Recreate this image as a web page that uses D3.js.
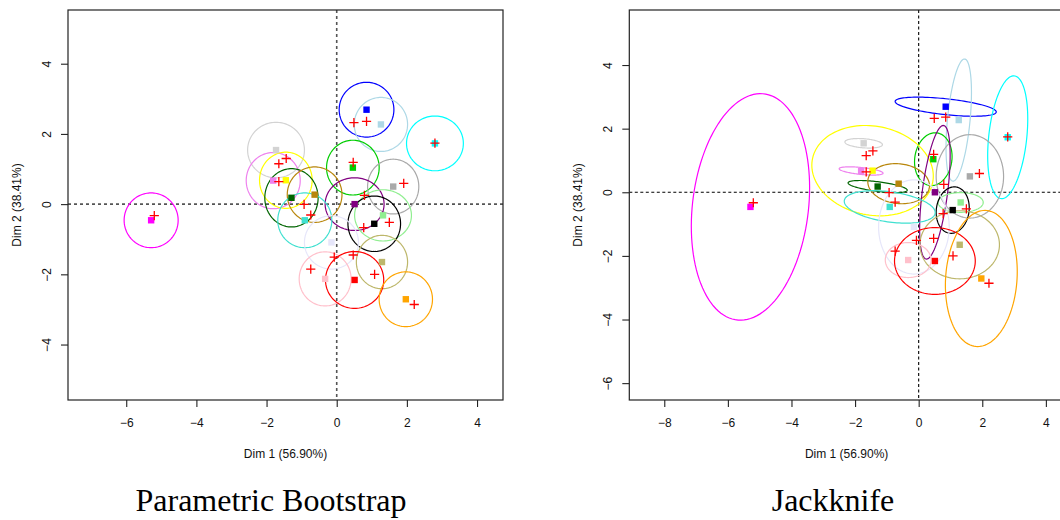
<!DOCTYPE html>
<html>
<head>
<meta charset="utf-8">
<title>Bootstrap vs Jackknife ellipses</title>
<script src="https://d3js.org/d3.v7.min.js"></script>
<style>
  body { margin: 0; background: #fff; }
  svg text { font-family: "Liberation Sans", Arial, sans-serif; }
</style>
</head>
<body>
<script>
// one colour per product
var productColors = ["#0000ff", "#add8e6", "#00ffff", "#d3d3d3", "#00cd00",
                     "#a9a9a9", "#ee82ee", "#ffff00", "#006400", "#b8860b",
                     "#800080", "#90ee90", "#000000", "#40e0d0", "#e6e6fa",
                     "#bdb76b", "#ffc0cb", "#ff0000", "#ffa500", "#ff00ff"];

// product coordinates (squares)
var dim1 = [0.85, 1.26, 2.80, -1.73, 0.46, 1.61, -1.81, -1.45, -1.29, -0.63,
            0.51, 1.32, 1.07, -0.91, -0.15, 1.29, -0.33, 0.51, 1.97, -5.29];
var dim2 = [2.69, 2.27, 1.73, 1.54, 1.04, 0.50, 0.67, 0.68, 0.18, 0.27,
            0.00, -0.32, -0.56, -0.46, -1.09, -1.65, -2.13, -2.16, -2.71, -0.46];

// red crosses
var crossDim1 = [0.49, 0.85, 2.80, -1.65, -1.44, 0.47, 1.91, -1.65, 0.79, -0.93,
                 -0.74, 1.50, 0.77, 0.47, -0.07, -0.74, 1.08, 2.21, -5.20];
var crossDim2 = [2.32, 2.36, 1.74, 1.15, 1.30, 1.19, 0.59, 0.64, 0.25, -0.01,
                 -0.31, -0.52, -0.67, -1.45, -1.51, -1.85, -2.00, -2.86, -0.33];

// parametric bootstrap: half extent along each axis
var bootRx = [0.78, 0.76, 0.81, 0.81, 0.75, 0.73, 0.77, 0.75, 0.76, 0.78,
              0.84, 0.81, 0.75, 0.77, 0.77, 0.73, 0.74, 0.83, 0.76, 0.77];
var bootRy = [0.78, 0.77, 0.78, 0.79, 0.78, 0.78, 0.80, 0.80, 0.83, 0.79,
              0.75, 0.73, 0.79, 0.78, 0.76, 0.76, 0.77, 0.81, 0.78, 0.78];

// jackknife: half extents and correlation
var jackRx = [1.59, 0.40, 0.63, 0.59, 0.59, 1.06, 0.69, 1.91, 0.93, 0.97,
              0.48, 0.71, 0.52, 1.43, 1.11, 1.25, 0.72, 1.27, 1.13, 1.86];
var jackRy = [0.30, 1.92, 1.93, 0.15, 0.83, 1.31, 0.13, 1.42, 0.19, 0.63,
              2.10, 0.31, 0.73, 0.51, 1.48, 1.07, 0.55, 1.05, 2.14, 3.56];
var jackRho = [-0.55, 0.45, 0.30, -0.28, 0.10, 0.00, -0.54, -0.12, -0.60, -0.10,
               0.55, 0.00, 0.10, -0.35, 0.00, 0.00, 0.00, 0.00, 0.10, 0.17];

var bootXTicks = [-6, -4, -2, 0, 2, 4];
var bootYTicks = [-4, -2, 0, 2, 4];
var jackXTicks = [-8, -6, -4, -2, 0, 2, 4];
var jackYTicks = [-6, -4, -2, 0, 2, 4];

var xLabel = "Dim 1 (56.90%)";
var yLabel = "Dim 2 (38.41%)";
var titles = ["Parametric Bootstrap", "Jackknife"];

var svg = d3.select("body").append("svg")
    .attr("width", 1060)
    .attr("height", 520)
    .style("background", "#fff");

function drawPanel(opt) {
  var x = d3.scaleLinear().domain(opt.xDomain).range([opt.left, opt.right]);
  var y = d3.scaleLinear().domain(opt.yDomain).range([opt.bottom, opt.top]);
  var g = svg.append("g");

  g.append("clipPath").attr("id", opt.id)
    .append("rect")
      .attr("x", opt.left).attr("y", opt.top)
      .attr("width", opt.right - opt.left).attr("height", opt.bottom - opt.top);

  var plot = g.append("g").attr("clip-path", "url(#" + opt.id + ")");

  // dashed axes through origin
  plot.append("line")
    .attr("x1", x(0)).attr("x2", x(0)).attr("y1", opt.top).attr("y2", opt.bottom)
    .attr("stroke", opt.dashColor).attr("stroke-width", opt.dashWidth)
    .attr("stroke-dasharray", opt.dash);
  plot.append("line")
    .attr("x1", opt.left).attr("x2", opt.right).attr("y1", y(0)).attr("y2", y(0))
    .attr("stroke", opt.dashColor).attr("stroke-width", opt.dashWidth)
    .attr("stroke-dasharray", opt.dash);

  var line = d3.line()
      .x(function(d) { return x(d[0]); })
      .y(function(d) { return y(d[1]); })
      .curve(d3.curveLinearClosed);

  plot.selectAll("path.ell")
    .data(productColors)
    .enter()
    .append("path")
      .attr("class", "ell")
      .attr("fill", "none")
      .attr("stroke", function(d) { return d; })
      .attr("stroke-width", 1.2)
      .attr("d", function(d, i) {
        var shift = Math.acos(opt.rho[i]);
        var pts = d3.range(120).map(function(k) {
          var t = 2 * Math.PI * k / 120;
          return [dim1[i] + opt.rx[i] * Math.cos(t),
                  dim2[i] + opt.ry[i] * Math.cos(t + shift)];
        });
        return line(pts);
      });

  plot.selectAll("rect.pt")
    .data(productColors)
    .enter()
    .append("rect")
      .attr("class", "pt")
      .attr("x", function(d, i) { return x(dim1[i]) - 3.2; })
      .attr("y", function(d, i) { return y(dim2[i]) - 3.2; })
      .attr("width", 6.4)
      .attr("height", 6.4)
      .attr("fill", function(d) { return d; });

  plot.selectAll("path.cross")
    .data(crossDim1)
    .enter()
    .append("path")
      .attr("class", "cross")
      .attr("stroke", "#ff0000")
      .attr("stroke-width", 1.3)
      .attr("d", function(d, i) {
        var cx = x(d), cy = y(crossDim2[i]), s = 4.6;
        return "M" + (cx - s) + "," + cy + "H" + (cx + s) +
               "M" + cx + "," + (cy - s) + "V" + (cy + s);
      });

  // frame
  g.append("rect")
    .attr("x", opt.left).attr("y", opt.top)
    .attr("width", opt.right - opt.left).attr("height", opt.bottom - opt.top)
    .attr("fill", "none").attr("stroke", "#222").attr("stroke-width", 1.2);

  var xAxis = g.append("g")
    .attr("transform", "translate(0," + opt.bottom + ")")
    .call(d3.axisBottom(x).tickValues(opt.xTicks).tickSize(7).tickPadding(11));
  var yAxis = g.append("g")
    .attr("transform", "translate(" + opt.left + ",0)")
    .call(d3.axisLeft(y).tickValues(opt.yTicks).tickSize(7));

  [xAxis, yAxis].forEach(function(a) {
    a.select(".domain").remove();
    a.selectAll(".tick line").attr("stroke", "#222").attr("stroke-width", 1.1);
    a.selectAll("text").attr("font-size", 12).attr("fill", "#111")
      .attr("font-family", "'Liberation Sans', Arial, sans-serif");
  });

  yAxis.selectAll(".tick text")
    .attr("x", null)
    .attr("dy", null)
    .attr("text-anchor", "middle")
    .attr("transform", "translate(-17,0) rotate(-90)");

  var midX = (opt.left + opt.right) / 2;
  var midY = (opt.top + opt.bottom) / 2;

  g.append("text")
    .attr("x", midX).attr("y", 458)
    .attr("text-anchor", "middle")
    .attr("font-size", 12).attr("fill", "#111")
    .text(xLabel);

  g.append("text")
    .attr("transform", "translate(" + (opt.left - 47.5) + "," + midY + ") rotate(-90)")
    .attr("text-anchor", "middle")
    .attr("font-size", 12).attr("fill", "#111")
    .text(yLabel);

  g.append("text")
    .attr("x", opt.titleX).attr("y", 511)
    .attr("text-anchor", "middle")
    .attr("font-size", 32)
    .attr("fill", "#000")
    .style("font-family", "'Liberation Serif', 'Times New Roman', serif")
    .text(opt.title);
}

drawPanel({
  id: "clipBoot",
  left: 68, right: 503, top: 10, bottom: 400,
  xDomain: [-7.66, 4.74], yDomain: [-5.58, 5.53],
  xTicks: bootXTicks, yTicks: bootYTicks,
  rx: bootRx, ry: bootRy, rho: bootRx.map(function() { return 0; }),
  dashColor: "#555", dashWidth: 1.6, dash: "3,3",
  title: titles[0], titleX: 271
});

drawPanel({
  id: "clipJack",
  left: 629.3, right: 1064, top: 10, bottom: 400,
  xDomain: [-9.10, 4.57], yDomain: [-6.53, 5.73],
  xTicks: jackXTicks, yTicks: jackYTicks,
  rx: jackRx, ry: jackRy, rho: jackRho,
  dashColor: "#000", dashWidth: 1.1, dash: "3,2.5",
  title: titles[1], titleX: 833
});
</script>
</body>
</html>
